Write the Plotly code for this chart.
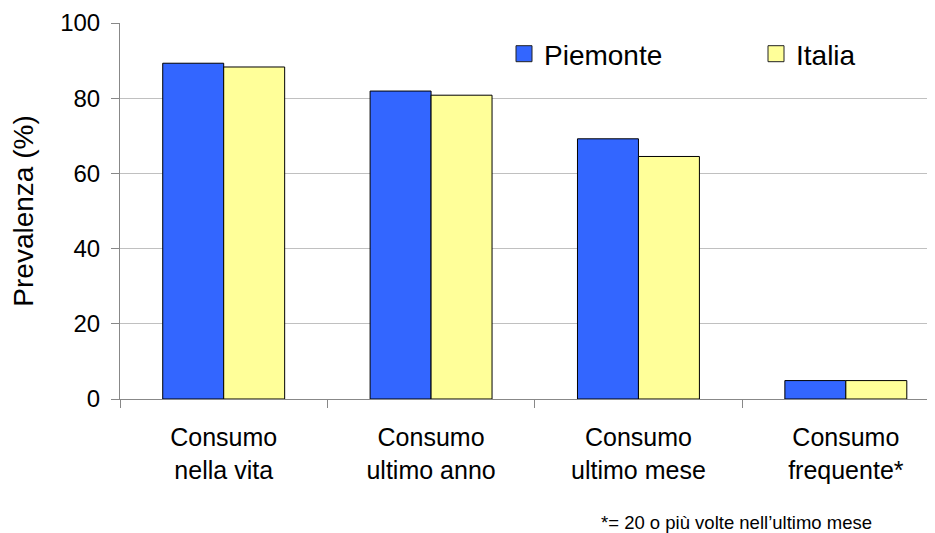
import plotly.graph_objects as go

categories = ["Consumo<br>nella vita", "Consumo<br>ultimo anno", "Consumo<br>ultimo mese", "Consumo<br>frequente*"]
piemonte = [89.3, 81.9, 69.2, 4.9]
italia = [88.3, 80.8, 64.5, 4.9]
series_names = ["Piemonte", "Italia"]
series_colors = ["#3366FF", "#FFFF99"]
y_ticks = [0, 20, 40, 60, 80, 100]
footnote = "*= 20 o più volte nell’ultimo mese"

FONT = "Liberation Sans, Arial, sans-serif"

fig = go.Figure()
for name, vals, col in zip(series_names, [piemonte, italia], series_colors):
    fig.add_trace(go.Bar(x=categories, y=vals, name=name, showlegend=False,
                         marker=dict(color=col, line=dict(color="#000000", width=1))))

# legend entries (square markers)
for name, col, leg in zip(series_names, series_colors, ["legend", "legend2"]):
    fig.add_trace(go.Scatter(x=[None], y=[None], mode="markers", name=name, legend=leg,
                             marker=dict(symbol="square", size=16, color=col,
                                         line=dict(color="#222222", width=1))))

leg_common = dict(orientation="h", yanchor="middle", xanchor="left",
                  font=dict(size=28, family=FONT), bgcolor="rgba(0,0,0,0)",
                  itemsizing="trace", borderwidth=0)

# page body has an 8px default margin: figure is sized/placed to compensate
fig.update_layout(
    width=927, height=525,
    margin=dict(l=112, r=0, t=15, b=134, autoexpand=False),
    plot_bgcolor="white", paper_bgcolor="white",
    barmode="group", bargap=0.412, bargroupgap=0,
    font=dict(family=FONT, color="#000000"),
    showlegend=True,
    legend=dict(x=(504 - 120) / 815, y=(399 - 54) / 376, **leg_common),
    legend2=dict(x=(756 - 120) / 815, y=(399 - 54) / 376, **leg_common),
    xaxis=dict(type="category", range=[-0.5, 3.43], tickson="boundaries",
               ticks="outside", ticklen=8, tickcolor="#888888", tickwidth=1,
               showline=True, linecolor="#888888", linewidth=1,
               showgrid=False, tickfont=dict(size=25, family=FONT),
               ticklabelstandoff=16, automargin=False),
    yaxis=dict(range=[0, 100], tickvals=y_ticks, ticks="outside", ticklen=8,
               tickcolor="#888888", tickwidth=1,
               showline=True, linecolor="#888888", linewidth=1,
               showgrid=True, gridcolor="#C0C0C0", gridwidth=1,
               zeroline=False, tickfont=dict(size=24, family=FONT),
               ticklabelstandoff=6, automargin=False,
               title=dict(text="Prevalenza (%)", font=dict(size=28, family=FONT), standoff=18)),
    annotations=[dict(text=footnote, xref="paper", yref="paper",
                      x=(874 - 120) / 815, y=(399 - 522) / 376,
                      xanchor="right", yanchor="middle", showarrow=False,
                      font=dict(size=18.5, family=FONT))],
)

fig.write_html("out.html")
